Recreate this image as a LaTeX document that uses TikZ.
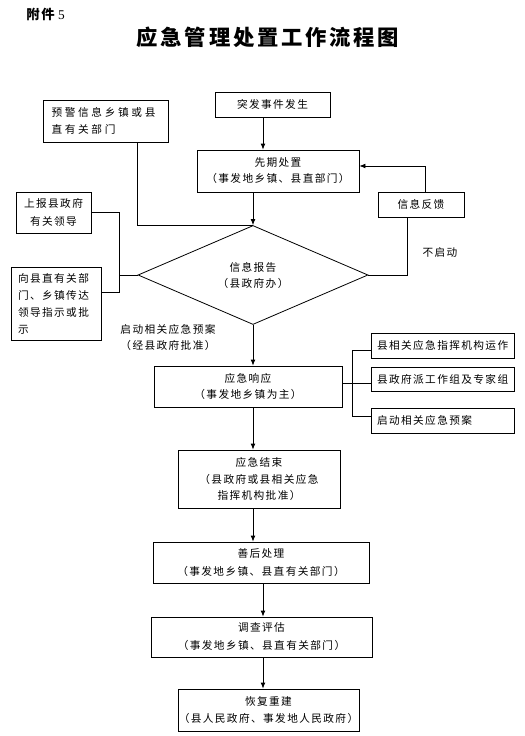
\documentclass[tikz,border=0pt]{standalone}
\usepackage{fontspec}
\setmainfont{Liberation Serif}
\newfontfamily\cjk[LetterSpace=13]{Noto Sans CJK SC}
\newfontfamily\cjkwide[LetterSpace=25]{Noto Sans CJK SC}
\usetikzlibrary{arrows.meta,shapes.geometric}
\def\pxu{0.75pt}
\tikzset{
	box/.style={draw, line width=0.6pt, inner sep=0pt, align=center, font=\cjk\fontsize{8pt}{12pt}\selectfont},
	lbl/.style={inner sep=0pt, align=center, font=\cjk\fontsize{8pt}{12pt}\selectfont},
	arr/.style={line width=0.6pt, -{Latex[length=4.5pt,width=3.6pt]}},
	link/.style={line width=0.6pt},
}

\begin{document}
\begin{tikzpicture}[x=\pxu, y=-\pxu]
			%%%%% START %%%%%
			\useasboundingbox (0,0) rectangle (525,736);
			
			\node[anchor=west, inner sep=0pt, font=\fontsize{10pt}{12pt}\selectfont] (fujian) at (26,14) {{\cjk\bfseries 附件} 5};
			\node[inner sep=0pt, font=\cjk\bfseries\fontsize{16pt}{18pt}\selectfont] (title) at (268,37) {应急管理处置工作流程图};
			
			\node[box, minimum width=125*\pxu, minimum height=42*\pxu, text width=108*\pxu, align=left, font=\cjkwide\fontsize{8pt}{12.5pt}\selectfont] (yujing) at (105.5,121) {预警信息乡镇或县\\直有关部门};
			\node[box, minimum width=115*\pxu, minimum height=25*\pxu] (tufa) at (272.5,104.5) {突发事件发生};
			\node[box, minimum width=162*\pxu, minimum height=42*\pxu] (xianqi) at (278,171) {先期处置\\（事发地乡镇、县直部门）};
			\node[box, minimum width=86*\pxu, minimum height=25*\pxu] (fankui) at (421,204.5) {信息反馈};
			\node[box, shape=diamond, minimum width=230*\pxu, minimum height=99*\pxu] (dia) at (253,275) {信息报告\\（县政府办）};
			
			\node[box, minimum width=75*\pxu, minimum height=41*\pxu, font=\cjk\fontsize{8pt}{13.5pt}\selectfont] (shangbao) at (53.5,212.5) {上报县政府\\有关领导};
			\node[box, minimum width=90*\pxu, minimum height=73*\pxu, text width=76*\pxu, align=left, font=\cjk\fontsize{8pt}{12.75pt}\selectfont] (chuanda) at (56,303.5) {向县直有关部\\门、乡镇传达\\领导指示或批\\示};
			
			\node[lbl] (buqidong) at (440,252) {不启动};
			\node[lbl] (qidong) at (168,337) {启动相关应急预案\\（经县政府批准）};
			
			\node[box, minimum width=188*\pxu, minimum height=41*\pxu] (xiangying) at (248,386.5) {应急响应\\（事发地乡镇为主）};
			\node[box, minimum width=143*\pxu, minimum height=25*\pxu, text width=131*\pxu, align=left] (r1) at (442.5,345.5) {县相关应急指挥机构运作};
			\node[box, minimum width=143*\pxu, minimum height=24*\pxu, text width=131*\pxu, align=left] (r2) at (442.5,379) {县政府派工作组及专家组};
			\node[box, minimum width=143*\pxu, minimum height=25*\pxu, text width=131*\pxu, align=left] (r3) at (442.5,420.5) {启动相关应急预案};
			
			\node[box, minimum width=162*\pxu, minimum height=58*\pxu, font=\cjk\fontsize{8pt}{12.4pt}\selectfont] (jieshu) at (259,479) {应急结束\\（县政府或县相关应急\\指挥机构批准）};
			\node[box, minimum width=216*\pxu, minimum height=41*\pxu, font=\cjk\fontsize{8pt}{14pt}\selectfont] (shanhou) at (261,562.5) {善后处理\\（事发地乡镇、县直有关部门）};
			\node[box, minimum width=221*\pxu, minimum height=40*\pxu, font=\cjk\fontsize{8pt}{13.5pt}\selectfont] (diaocha) at (261.5,637) {调查评估\\（事发地乡镇、县直有关部门）};
			\node[box, minimum width=181*\pxu, minimum height=42*\pxu, font=\cjk\fontsize{8pt}{13pt}\selectfont] (huifu) at (268.5,710) {恢复重建\\（县人民政府、事发地人民政府）};
			
			\coordinate (ax) at (263,0);
			\coordinate (fbx) at (407,0);
			\coordinate (fbt) at (425,166);
			\coordinate (lj) at (119,292);
			\coordinate (rt) at (352,350);
			\coordinate (rm) at (352,383);
			\coordinate (rb) at (352,416);
			
			\draw[arr] (tufa.south -| ax) -- (xianqi.north -| ax);
			\draw[arr] (xianqi.south -| dia.north) -- (dia.north);
			\draw[link] (yujing.south -| dia.west) |- (dia.north);
			
			\draw[link] (dia.east) -| (fbx |- fankui.south);
			\draw[arr] (fankui.north -| fbt) |- (xianqi.east |- fbt);
			
			\draw[link] (dia.west) -- (dia.west -| lj);
			\draw[link] (shangbao.east) -| (lj) -- (lj -| chuanda.east);
			
			\draw[arr] (dia.south) -- (dia.south |- xiangying.north);
			\draw[link] (r1.west |- rt) -- (rt) -- (rb) -- (r3.west |- rb);
			\draw[link] (xiangying.east |- rm) -- (r2.west |- rm);
			
			\draw[arr] (dia.south |- xiangying.south) -- (dia.south |- jieshu.north);
			\draw[arr] (dia.south |- jieshu.south) -- (dia.south |- shanhou.north);
			\draw[arr] (ax |- shanhou.south) -- (ax |- diaocha.north);
			\draw[arr] (ax |- diaocha.south) -- (ax |- huifu.north);
			
			%%%%% END %%%%%
\end{tikzpicture}
\end{document}
